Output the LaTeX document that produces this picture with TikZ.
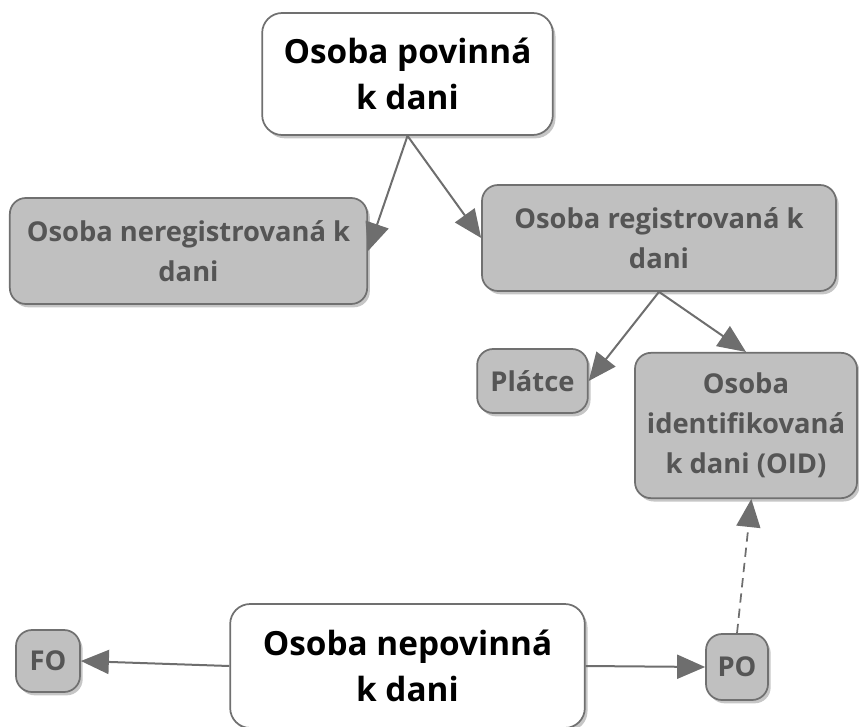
\documentclass[tikz,border=0pt]{standalone}
\usepackage{fontspec}
\setmainfont{Open Sans}
\usetikzlibrary{arrows.meta,shadows}

\definecolor{boxline}{HTML}{707070}
\definecolor{boxfill}{HTML}{C0C0C0}
\definecolor{textgray}{HTML}{555555}
\definecolor{linkgray}{HTML}{6E6E6E}

\def\bigFont{\bfseries\fontsize{25}{35}\selectfont}
\def\subFont{\bfseries\fontsize{20.5}{30}\selectfont}

\tikzset{
  mainbox/.style={draw=boxline, line width=1.3pt, fill=white, rounded corners=15pt,
    drop shadow={shadow xshift=2pt, shadow yshift=-2.5pt, opacity=0.45},
    align=center, inner sep=0pt, font=\bigFont},
  subbox/.style={draw=boxline, line width=1.3pt, fill=boxfill, rounded corners=12pt,
    drop shadow={shadow xshift=2pt, shadow yshift=-2.5pt, opacity=0.45},
    align=center, inner sep=0pt, text=textgray, font=\subFont},
  link/.style={draw=linkgray, line width=1.5pt, -{Triangle[length=21pt,width=18pt]}},
}

\begin{document}
\begin{tikzpicture}[x=0.75pt,y=-0.75pt]
    \useasboundingbox (0,0) rectangle (859,727);

    % upper part
    \node[mainbox, minimum width=218pt, minimum height=91.5pt] (povinna) at (407.5,74) {Osoba povinná\\k dani};
    \node[subbox, minimum width=268pt, minimum height=79.5pt] (nereg) at (188.5,251) {Osoba neregistrovaná k\\dani};
    \node[subbox, minimum width=265.5pt, minimum height=79.5pt] (reg) at (659,238) {Osoba registrovaná k\\dani};
    \node[subbox, minimum width=83pt, minimum height=48pt] (platce) at (532.5,381) {Plátce};
    \node[subbox, minimum width=166.5pt, minimum height=109pt] (oid) at (746,425.5) {Osoba\\identifikovaná\\k dani (OID)};

    % lower part
    \node[mainbox, minimum width=266pt, minimum height=93pt] (nepovinna) at (407.5,666) {Osoba nepovinná\\k dani};
    \node[subbox, minimum width=48pt, minimum height=46.5pt] (fo) at (48,661) {FO};
    \node[subbox, minimum width=46.5pt, minimum height=49.5pt] (po) at (737,667) {PO};

    \draw[link] (povinna.south) -- (nereg.east);
    \draw[link] (povinna.south) -- (reg.west);
    \draw[link] (reg.south) -- (platce.east);
    \draw[link] (reg.south) -- (oid.north);
    \draw[link, line width=1.3pt, dash pattern=on 7pt off 4.5pt] (po.north) -- ([xshift=4pt]oid.south);
    \draw[link] (nepovinna.west) -- (fo.east);
    \draw[link] (nepovinna.east) -- (po.west);
  \end{tikzpicture}
\end{document}
